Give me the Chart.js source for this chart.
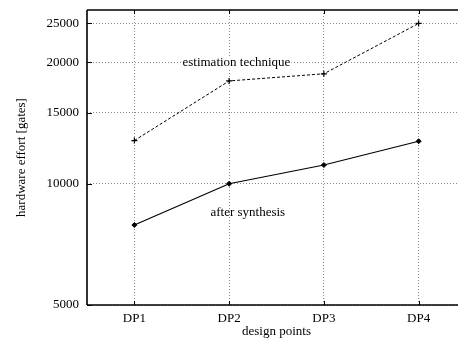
<!DOCTYPE html>
<html>
<head>
<meta charset="utf-8">
<script src="https://cdn.jsdelivr.net/npm/chart.js@4.4.1/dist/chart.umd.min.js"></script>
<style>
html,body{margin:0;padding:0;background:#fff;overflow:hidden;}
#wrap{position:relative;width:480px;height:339px;}
</style>
</head>
<body>
<div id="wrap"><canvas id="c"></canvas></div>
<script>
const categories = ['DP1', 'DP2', 'DP3', 'DP4'];
const estimationTechnique = [12800, 18000, 18750, 25000];
const afterSynthesis = [7900, 10000, 11130, 12750];
const yTickValues = [5000, 10000, 15000, 20000, 25000];
const yMin = 5000, yMax = 27000;
const seriesLabels = ['estimation technique', 'after synthesis'];
const labelAnchors = [{x: 1.077, y: 20000, bg: true}, {x: 1.197, y: 8490, bg: false}];

const FONT = "'Liberation Serif', 'Times New Roman', serif";

const framePlugin = {
  id: 'frame',
  afterDatasetsDraw(chart) {
    const ctx = chart.ctx, a = chart.chartArea;
    const xs = chart.scales.x, ys = chart.scales.y;
    ctx.save();
    ctx.setLineDash([]);
    ctx.strokeStyle = '#000';
    ctx.lineWidth = 1;
    ctx.beginPath();
    categories.forEach((c, i) => {
      const px = Math.round(xs.getPixelForValue(i)) + 0.5;
      ctx.moveTo(px, a.bottom); ctx.lineTo(px, a.bottom - 4);
      ctx.moveTo(px, a.top); ctx.lineTo(px, a.top + 4);
    });
    yTickValues.forEach(v => {
      const py = Math.round(ys.getPixelForValue(v)) + 0.5;
      ctx.moveTo(a.left, py); ctx.lineTo(a.left + 5, py);
    });
    ctx.stroke();
    ctx.lineWidth = 1.6;
    ctx.beginPath();
    ctx.moveTo(a.left, a.top); ctx.lineTo(a.right, a.top);
    ctx.moveTo(a.left, a.bottom); ctx.lineTo(a.right, a.bottom);
    ctx.moveTo(a.left, a.top); ctx.lineTo(a.left, a.bottom);
    ctx.stroke();
    ctx.font = '13px ' + FONT;
    ctx.textAlign = 'center';
    ctx.textBaseline = 'middle';
    seriesLabels.forEach((t, i) => {
      const px = xs.getPixelForValue(labelAnchors[i].x);
      const py = ys.getPixelForValue(labelAnchors[i].y);
      if (labelAnchors[i].bg) {
        const w = ctx.measureText(t).width;
        ctx.fillStyle = '#fff';
        ctx.fillRect(px - w / 2 - 1, py - 6, w + 2, 12);
      }
      ctx.fillStyle = '#000';
      ctx.fillText(t, px, py);
    });
    ctx.restore();
  }
};

new Chart(document.getElementById('c'), {
  type: 'line',
  data: {
    labels: categories,
    datasets: [
      {
        label: seriesLabels[0],
        data: estimationTechnique,
        borderColor: '#000',
        backgroundColor: '#000',
        borderWidth: 1,
        borderDash: [3, 2],
        pointStyle: 'cross',
        pointRadius: 3,
        pointBorderWidth: 1.2,
        tension: 0,
        fill: false
      },
      {
        label: seriesLabels[1],
        data: afterSynthesis,
        borderColor: '#000',
        backgroundColor: '#000',
        borderWidth: 1.2,
        pointStyle: 'rectRot',
        pointRadius: 2.5,
        pointBorderWidth: 1,
        tension: 0,
        fill: false
      }
    ]
  },
  options: {
    responsive: true,
    maintainAspectRatio: false,
    animation: false,
    devicePixelRatio: 1,
    layout: {padding: {top: 10, right: 14, left: 0, bottom: 0}},
    plugins: {legend: {display: false}, tooltip: {enabled: false}},
    scales: {
      x: {
        type: 'category',
        offset: true,
        grid: {
          offset: false,
          color: '#888',
          lineWidth: 1,
          drawTicks: false
        },
        border: {display: false, dash: [1, 2]},
        ticks: {
          color: '#000',
          padding: 6,
          font: {family: FONT, size: 13},
          maxRotation: 0
        },
        title: {
          display: true,
          text: 'design points',
          color: '#000',
          font: {family: FONT, size: 13, lineHeight: 1.1},
          padding: {top: 0, bottom: 0}
        },
        afterFit(scale) {
          scale.height = 34;
          scale.paddingLeft = 0; scale.paddingRight = 0;
        }
      },
      y: {
        type: 'logarithmic',
        min: yMin,
        max: yMax,
        afterBuildTicks(scale) {
          scale.ticks = yTickValues.map(v => ({value: v}));
        },
        grid: {
          color: '#888',
          lineWidth: 1,
          drawTicks: false
        },
        border: {display: false, dash: [1, 2]},
        ticks: {
          color: '#000',
          padding: 8,
          font: {family: FONT, size: 13},
          callback: (v) => String(v)
        },
        title: {
          display: true,
          text: 'hardware effort [gates]',
          color: '#000',
          font: {family: FONT, size: 13, lineHeight: 1.2},
          padding: {top: 14, bottom: 0}
        },
        afterFit(scale) {
          scale.width = 87;
          scale.paddingTop = 0; scale.paddingBottom = 0;
        }
      }
    }
  },
  plugins: [framePlugin]
});
</script>
</body>
</html>
